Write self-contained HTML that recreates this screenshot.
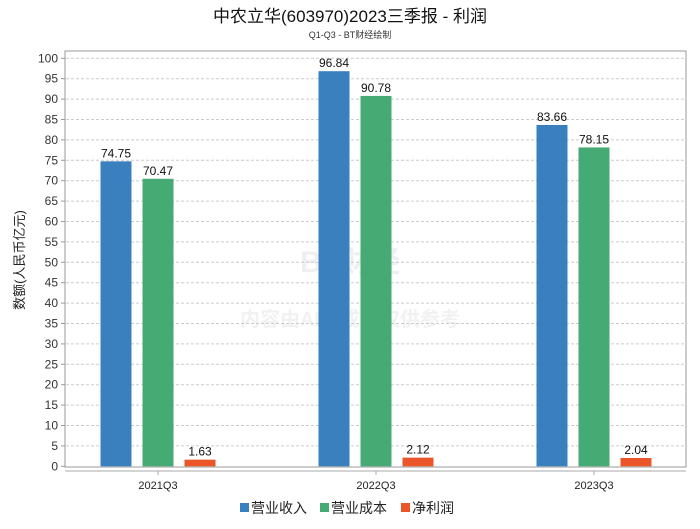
<!DOCTYPE html>
<html><head><meta charset="utf-8"><style>
body{margin:0;background:#fff;font-family:"Liberation Sans","Noto Sans CJK SC",sans-serif}
</style></head><body>
<svg width="700" height="524" xmlns="http://www.w3.org/2000/svg" font-family="Liberation Sans, Noto Sans CJK SC, sans-serif">
<text x="350" y="22" text-anchor="middle" font-size="17" fill="#111">中农立华(603970)2023三季报 - 利润</text>
<text x="350" y="38" text-anchor="middle" font-size="9" fill="#333">Q1-Q3 - BT财经绘制</text>
<rect x="65" y="51" width="621" height="416" fill="none" stroke="#999"/>
<g opacity="0.08">
<text x="350" y="272" text-anchor="middle" font-size="30" font-weight="bold" fill="#345">BT财经</text>
<text x="350" y="326" text-anchor="middle" font-size="20" font-weight="bold" fill="#555">内容由AI生成，仅供参考</text>
</g>
<g id="grid"></g><g id="bars"></g><g id="axes"></g>
<text transform="translate(24,260) rotate(-90)" text-anchor="middle" font-size="13" fill="#222">数额(人民币亿元)</text>
<g font-size="14" fill="#222">
<g><rect x="240" y="503" width="9" height="9" fill="#3a80bf"/><text x="251" y="513">营业收入</text></g>
<g><rect x="320" y="503" width="9" height="9" fill="#46aa74"/><text x="331" y="513">营业成本</text></g>
<g><rect x="401" y="503" width="9" height="9" fill="#ea5529"/><text x="412" y="513">净利润</text></g>
</g>
</svg>
<script>
const categories=["2021Q3","2022Q3","2023Q3"];
const revenue=[74.75,96.84,83.66];
const cost=[70.47,90.78,78.15];
const profit=[1.63,2.12,2.04];
const yTicks=[0,5,10,15,20,25,30,35,40,45,50,55,60,65,70,75,80,85,90,95,100];
const NS="http://www.w3.org/2000/svg";
const y=v=>466.3-v*4.08;
const xc=i=>158+i*218;
function mk(t,a,p){const e=document.createElementNS(NS,t);for(const k in a)e.setAttribute(k,a[k]);p.appendChild(e);return e;}
const grid=document.getElementById('grid'),bars=document.getElementById('bars'),axes=document.getElementById('axes');
yTicks.forEach(v=>{
 if(v>0){const l=mk('line',{x1:66,x2:685,y1:y(v),y2:y(v),stroke:'#ccc','stroke-dasharray':'3,2'},grid);
 }
 const tl=mk('line',{x1:61,x2:65,y1:y(v),y2:y(v),stroke:'#999'},axes);
 
 const t=mk('text',{x:58,y:y(v)+4,'text-anchor':'end','font-size':12,fill:'#333'},axes);t.textContent=v;
 
});
const xl=mk('line',{x1:65,x2:686,y1:471,y2:471,stroke:'#aaa'},axes);

const series=[[revenue,'#3a80bf',-42],[cost,'#46aa74',0],[profit,'#ea5529',42]];
categories.forEach((c,i)=>{
 const tk=mk('line',{x1:xc(i),x2:xc(i),y1:471,y2:475,stroke:'#aaa'},axes);
 
 const t=mk('text',{x:xc(i),y:489,'text-anchor':'middle','font-size':11,fill:'#222'},axes);t.textContent=c;
 
 series.forEach(([vals,col,off])=>{
  const v=vals[i];const cx=xc(i)+off;
  const r=mk('rect',{x:cx-15.5,y:y(v),width:31,height:466.3-y(v),fill:col},bars);
  
  const lb=mk('text',{x:cx,y:y(v)-4,'text-anchor':'middle','font-size':12,fill:'#111'},bars);lb.textContent=v.toFixed(2);
  
 });
});
</script>
</body></html>
